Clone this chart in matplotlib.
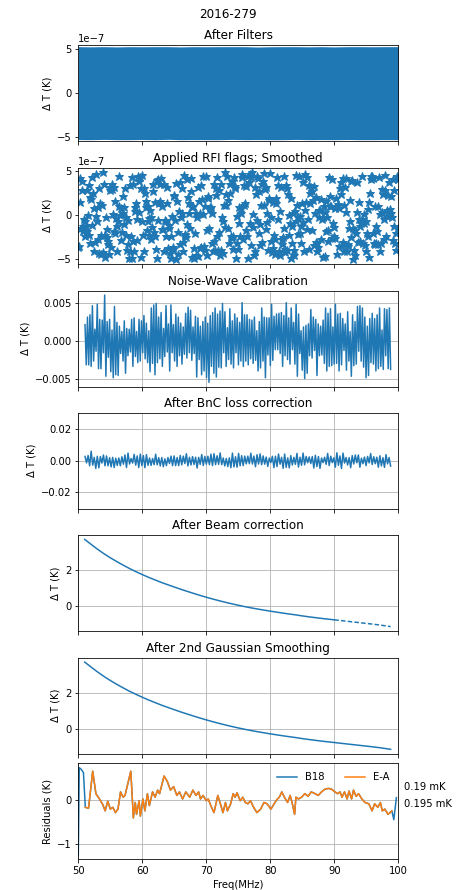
import numpy as np
from matplotlib import pyplot as plt

# panel 1: envelope of the raw filtered residuals (units of 1e-7 K)
raw_top = [5.3, 5.28, 5.3, 5.27, 5.3, 5.29, 5.3, 5.3, 5.27, 5.3, 5.29, 5.3, 5.3,
           5.3, 5.26, 5.29, 5.3, 5.3, 5.28, 5.3, 5.27, 5.3, 5.3, 5.29, 5.3, 5.3]
raw_bot = [-5.29, -5.3, -5.27, -5.3, -5.3, -5.28, -5.3, -5.26, -5.3, -5.29, -5.3, -5.3, -5.27,
           -5.3, -5.29, -5.3, -5.3, -5.27, -5.3, -5.29, -5.3, -5.28, -5.3, -5.3, -5.29, -5.3]

# panel 2: RFI-flagged, smoothed residuals (units of 1e-8 K)
rfi_dt = [
    -36, -35, 42, 15, -15, 39, 29, -18, -12, -4, -24, -7, -12, -18, 29, 0, -22, 34, -31, 21,
    19, -11, 43, 25, -40, 8, -30, 47, -1, -6, 9, -27, -43, 31, 14, -44, -22, 12, -42, 49,
    36, -22, -47, -2, -25, -16, -29, -33, -44, 29, 32, -36, 30, 36, 1, -18, 32, -20, 16, -3,
    -41, -12, -6, 10, 45, 0, 8, -28, -19, 22, 3, 9, -10, 31, -22, -2, -39, -33, -5, -48,
    34, -40, -23, -49, 43, 35, -29, -40, 5, 9, 14, -4, -28, 44, 39, 4, 43, -47, 31, 46,
    -6, -22, 31, -41, 25, 16, 9, -17, -6, 11, -22, -3, 6, -2, -27, -13, 36, 28, -19, 15,
    -23, -38, -49, 40, 41, -5, 14, 35, 16, 42, -16, 10, -16, 36, -40, -5, -7, -24, 14, 32,
    -37, -11, -14, -43, -24, -48, -1, -36, -38, 23, 22, -5, 37, -50, 16, -44, -19, 5, 38, -33,
    -2, 31, 2, -41, -30, 46, -22, -21, -25, -10, 41, 21, 3, 14, -14, 28, 42, 9, -47, 10,
    -49, -37, -20, 3, -45, -2, 32, -46, 16, 2, -37, 34, -36, 19, 1, 44, -35, -39, 10, 44,
    -17, -45, 22, 20, -14, 7, 9, 9, -31, 3, -41, -29, 36, -39, 23, 31, 43, -24, -39, 29,
    -19, -45, -39, 35, -2, -43, -6, 12, -13, 49, 12, 24, 45, 17, -15, -32, 35, 25, -23, -26,
    39, -38, -23, 43, 31, 33, -49, -31, -1, -38,
    -9, 9, -24, 3, 8, 47, 43, -27, 34, 12, 14, -17, 33, -23, 45, -48, 38, -9, 47, -34,
    43, 49, -13, 1, -45, 32, -41, 24, 44, -5, 42, -20, 28, -34, -10, 12, 36, -30, 39, 48,
    12, 30, -16, 32, 3, -8, -39, 20, 17, 48, -29, -2, -42, 15, -37, -22, -27, -44, 14, 20,
    43, 34, -4, -41, 5, -45, 32, -27, -33, -25, -15, 44, -42, -38, 34, 31, -39, 24, 0, -22,
    -9, -48, 20, -31, -12, 2, -39, -45, 5, 46, -6, 12, -21, -2, 45, -1, -20, -12, -31, 14,
    -8, 38, -40, 47, 6, 15, 43, -16, -4, -38, 34, 25, 14, 32, -17, 28, 17, 33, -34, 2,
    21, -30, -31, -41, -36, 6, -2, 6, 19, -27, -4, -47, -2, 11, -46, 4, -18, 16, -2, -29,
    -17, 43, 10, 22, 10, -26, 41, -9, -23, -13, -26, 8, 20, -44, 10, 13, -35, 8, 31, 24,
    38, -35, -30, 42, -41, 12, 32, 42, 4, -41, -33, -35, -14, -7, 17, 39, -25, 40, -14, -50,
    -39, -17, -45, -20, 4, 38, -30, -4, 15, -29, -12, -9, -4, 45, -31, -9, 1, -34, -41, -7,
    -20, 7, -23, -47, 15, 25, 45, 41, 45, -20, 42, -32, 11, -33, -12, -31, -18, 11, -33, 43,
    -40, 1, -32, 4, 30, 24, -4, -27, 29, 46, -23, -1, 6, 23, 1, 38, 7, 2, 22, -2,
    41, -28, 29, -12, -32, -20, -39, 44, 41, -15,
]

# panel 3: noise-wave calibrated spectrum (units of 1e-4 K)
nw_dt = [
    21, -32, 31, -32, 34, -34, 46, -27, 15, -14, 48, -37, 28, -37, 27, -16, 60, -47, 25, -22,
    28, -41, 14, -49, 45, -45, 24, -46, 19, -17, 12, -27, 26, -43, 16, -20, 15, -15, 28, -34,
    30, -21, 12, -29, 28, -27, 26, -16, 33, -24, 23, -29, 13, -41, 43, -30, 47, -45, 49, -29,
    31, -24, 37, -34, 16, -21, 46, -15, 22, -40, 47, -16, 21, -27, 35, -34, 31, -20, 23, -31,
    18, -18, 36, -23, 44, -16, 40, -26, 18, -17, 32, -48, 30, -25, 19, -45, 25, -40, 31, -49,
    23, -55, 33, -34, 37, -43, 43, -48, 35, -35, 39, -36, 49, -16, 38, -34, 17, -25, 42, -31,
    26, -36, 35, -16, 30, -32, 24, -27, 50, -34, 34, -27, 34, -32, 28, -24, 27, -30, 31, -26,
    13, -40, 25, -36, 43, -27, 31, -49, 30, -19, 30, -33, 48, -26, 32, -12, 35, -12, 36, -17,
    37, -34, 33, -20, 50, -25, 30, -31, 43, -12, 24, -31, 48, -47, 35, -17, 13, -39, 18, -50,
    20, -43, 22, -20, 41, -23, 31, -13, 28, -46, 22, -20, 19, -19, 27, -30, 43, -40, 36, -34,
    42, -33, 18, -31, 48, -30, 35, -40, 36, -32, 29, -13, 22, -39, 38, -27, 12, -47, 34, -33,
    25, -31, 45, -14, 46, -27, 43, -35, 31, -49, 19, -46, 29, -29, 36, -31, 29, -40, 34, -37,
    43, -34, 14, -38, 42, -20, 41, -37, 43, -38,
]

# panel 4: after BnC loss correction (units of 1e-4 K)
bnc_dt = [
    27, -14, 33, -32, 60, -28, 21, -49, 28, -45, 26, -15, 36, -32, 30, -32, 19, -39, 21, -43,
    16, -30, 17, -32, 25, -22, 36, -43, 48, -21, 14, -15, 40, -28, 30, -43, 42, -31, 32, -44,
    38, -29, 17, -30, 14, -25, 41, -26, 19, -33, 20, -38, 12, -31, 20, -18, 29, -31, 30, -31,
    20, -31, 33, -26, 29, -18, 44, -33, 22, -27, 26, -24, 22, -46, 21, -23, 39, -30, 27, -22,
    28, -25, 41, -31, 44, -25, 31, -23, 49, -25, 17, -33, 14, -37, 18, -44, 48, -39, 25, -41,
    46, -32, 32, -31, 29, -20, 29, -19, 47, -21, 29, -38, 38, -21, 43, -25, 30, -22, 23, -36,
    17, -12, 28, -44, 28, -37, 42, -22, 21, -48, 42, -42, 18, -45, 32, -27, 21, -23, 46, -40,
    22, -29, 48, -26, 27, -13, 24, -18, 26, -46, 34, -37, 26, -48, 17, -12, 22, -23, 46, -31,
    28, -12, 18, -41, 50, -29, 30, -49, 48, -15, 20, -27, 19, -44, 32, -21, 36, -13, 36, -41,
    16, -19, 23, -31, 27, -14, 45, -24, 25, -19, 22, -41, 31, -33, 19, -42, 38, -20, 20, -34,
]

# panels 5/6: beam corrected and smoothed spectra (K)
beam_freq = [51, 52, 53, 54, 55, 56, 57, 58, 59, 60,
             61, 62, 63, 64, 65, 66, 67, 68, 69, 70,
             71, 72, 73, 74, 75, 76, 77, 78, 79, 80,
             81, 82, 83, 84, 85, 86, 87, 88, 89, 90,
             91, 92, 93, 94, 95, 96, 97, 98, 98.8]
beam_dt = [3.73, 3.45, 3.18, 2.93, 2.70, 2.49, 2.29, 2.10, 1.925, 1.76,
           1.605, 1.46, 1.32, 1.19, 1.065, 0.94, 0.825, 0.71, 0.60, 0.495,
           0.395, 0.30, 0.21, 0.125, 0.045, -0.03, -0.10, -0.165, -0.225, -0.285,
           -0.34, -0.395, -0.445, -0.495, -0.55, -0.60, -0.645, -0.69, -0.73, -0.77,
           -0.81, -0.85, -0.89, -0.93, -0.97, -1.01, -1.055, -1.105, -1.15]
smooth_dt = [3.72, 3.44, 3.17, 2.92, 2.69, 2.48, 2.28, 2.09, 1.92, 1.755,
             1.60, 1.455, 1.315, 1.185, 1.06, 0.935, 0.82, 0.705, 0.595, 0.49,
             0.39, 0.295, 0.205, 0.12, 0.04, -0.035, -0.105, -0.17, -0.23, -0.29,
             -0.345, -0.40, -0.45, -0.50, -0.555, -0.605, -0.65, -0.695, -0.735, -0.775,
             -0.815, -0.855, -0.895, -0.935, -0.975, -1.015, -1.06, -1.11, -1.155]

# panel 7: residuals (K)
ea_freq = [51.1, 51.6, 52.25, 52.75, 53.3, 53.8, 54.2, 54.6, 55.0, 55.4,
           55.8, 56.2, 56.6, 57.0, 57.3, 58.2, 58.4, 58.6, 58.9, 59.1,
           59.5, 59.7, 60.1, 60.4, 60.8, 61.1, 61.6, 62.0, 62.4, 62.7,
           63.4, 63.9, 64.4, 64.9, 65.4, 65.8, 66.3, 66.8, 67.4, 67.9,
           68.4, 68.8, 69.1, 69.5, 70.0, 70.3, 70.7, 71.2, 71.8, 72.2,
           72.6, 73.0, 73.3, 73.8, 74.2, 74.5, 74.8, 75.3, 75.7, 76.1,
           76.5, 76.9, 77.4, 77.9, 78.5, 79.0, 79.5, 80.1, 80.6, 81.0,
           81.4, 81.8, 82.2, 82.7, 83.1, 83.4, 83.8, 84.0, 84.4, 84.9,
           85.4, 85.9, 86.4, 87.0, 87.5, 88.0, 88.5, 89.1, 89.6, 90.1,
           90.5, 90.9, 91.2, 91.6, 92.0, 92.3, 92.7, 93.0, 93.4, 93.8,
           94.3, 94.8, 95.4, 95.9, 96.3, 96.8, 97.2, 97.5, 97.9, 98.4,
           98.7, 99.0]
ea_res = [-0.17, -0.19, 0.65, 0.14, 0.02, -0.10, -0.25, -0.03, -0.21, -0.17,
          -0.29, -0.21, 0.18, 0.06, 0.10, 0.65, 0.14, -0.41, -0.06, -0.33,
          -0.02, -0.37, 0.02, -0.25, 0.14, -0.13, 0.18, 0.06, 0.22, 0.14,
          0.54, 0.42, 0.22, 0.30, 0.10, 0.18, 0.02, 0.18, 0.06, 0.22,
          0.10, 0.18, 0.02, 0.10, -0.02, 0.02, -0.13, -0.29, 0.10, -0.09,
          -0.29, -0.06, -0.25, -0.09, 0.14, 0.06, 0.16, -0.02, 0.06, -0.06,
          -0.09, -0.02, -0.17, -0.29, -0.21, -0.06, -0.09, -0.21, -0.09, 0.00,
          0.06, 0.18, 0.06, -0.06, 0.10, -0.06, -0.33, 0.06, 0.02, 0.06,
          0.14, 0.08, 0.18, 0.14, 0.10, 0.18, 0.24, 0.26, 0.24, 0.18,
          0.14, 0.18, 0.06, 0.18, 0.02, 0.20, 0.02, 0.22, 0.08, 0.14,
          0.02, -0.06, -0.09, -0.25, -0.09, -0.17, -0.06, -0.25, -0.21, -0.33,
          -0.29, -0.25]
b18_head_freq = [50.0, 50.15, 50.4, 50.8]
b18_head_res = [-1.25, 0.73, 0.70, 0.62]
b18_tail_freq = [99.3, 99.7]
b18_tail_res = [-0.45, 0.05]

notes = ['0.19 mK', '0.195 mK']

# frequency grids of the channels
raw_freq = np.linspace(50, 100, len(raw_top))
rfi_freq = np.linspace(50, 100, len(rfi_dt))
nw_freq = np.linspace(51.05, 98.8, len(nw_dt))
bnc_freq = np.linspace(51.05, 98.8, len(bnc_dt))
b18_freq = b18_head_freq + ea_freq + b18_tail_freq
b18_res = b18_head_res + ea_res + b18_tail_res

W, H = 456, 890
fig = plt.figure(figsize=(W / 72, H / 72), dpi=72)
fig.suptitle('2016-279', y=1 - 15 / H, va='center')

tops = [45, 167.7, 290.7, 412.7, 535, 657.7, 763.3]
axs = []
for top in tops:
    ax = fig.add_axes([78.3 / W, 1 - (top + 96) / H, 320 / W, 96 / H],
                      sharex=axs[0] if axs else None)
    axs.append(ax)

ax = axs[0]
ax.fill_between(raw_freq, np.array(raw_bot) * 1e-7, np.array(raw_top) * 1e-7,
                color='C0', lw=0)
ax.set_ylim(-5.45e-7, 5.49e-7)
ax.set_title('After Filters')

ax = axs[1]
ax.plot(rfi_freq, np.array(rfi_dt) * 1e-8, '*', color='C0', ms=9)
ax.set_title('Applied RFI flags; Smoothed')

ax = axs[2]
ax.plot(nw_freq, np.array(nw_dt) * 1e-4, color='C0')
ax.set_title('Noise-Wave Calibration')
ax.grid(True)

ax = axs[3]
ax.plot(bnc_freq, np.array(bnc_dt) * 1e-4, color='C0')
ax.set_ylim(-0.0303, 0.0303)
ax.set_title('After BnC loss correction')
ax.grid(True)

ax = axs[4]
ax.plot(beam_freq[:40], beam_dt[:40], color='C0')
ax.plot(beam_freq[39:], beam_dt[39:], color='C0', ls=(0, (3, 1.5)))
ax.set_title('After Beam correction')
ax.grid(True)

ax = axs[5]
ax.plot(beam_freq, smooth_dt, color='C0')
ax.set_title('After 2nd Gaussian Smoothing')
ax.grid(True)

for ax in axs[:6]:
    ax.set_ylabel('Δ T (K)')
    ax.tick_params(labelbottom=False)

ax = axs[6]
ax.plot(b18_freq, b18_res, color='C0', label='B18')
ax.plot(ea_freq, ea_res, color='C1', label='E-A')
ax.legend(loc='upper right', ncol=2, frameon=False)
ax.text(1.018, 0.758, notes[0], transform=ax.transAxes, va='center')
ax.text(1.018, 0.579, notes[1], transform=ax.transAxes, va='center')
ax.set_ylabel('Residuals (K)')
ax.set_xlabel('Freq(MHz)')
ax.set_xlim(50, 100)
ax.grid(True)

plt.savefig('out.png', dpi=72)
